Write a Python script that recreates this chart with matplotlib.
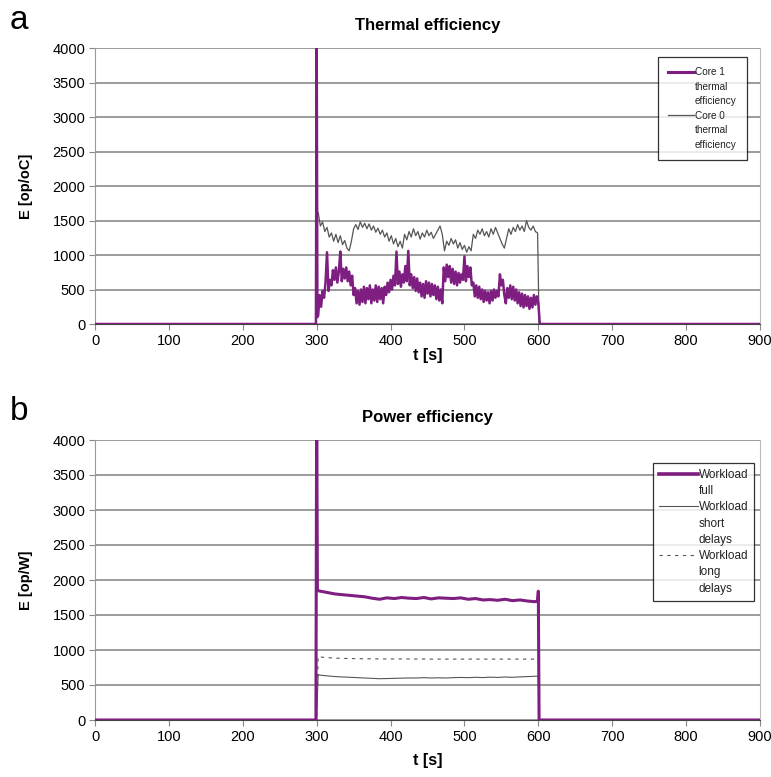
import matplotlib
matplotlib.use("Agg")
import matplotlib.pyplot as plt
from matplotlib.lines import Line2D

plt.rcParams['font.family'] = ['Liberation Sans', 'DejaVu Sans']

# ---------------- data: panel a (thermal efficiency) ----------------
t_core1 = [302 + 2 * k for k in range(150)]
core1_vals = [120, 420, 250, 480, 380, 600, 1040, 480, 640, 560,
              780, 640, 820, 600, 760, 1050, 620, 800, 660, 820,
              620, 760, 560, 700, 420, 520, 300, 480, 280, 500,
              320, 540, 300, 520, 360, 560, 300, 500, 340, 560,
              320, 540, 360, 520, 300, 540, 420, 600, 460, 640,
              500, 700, 560, 1050, 580, 760, 540, 720, 600, 840,
              620, 1060, 560, 720, 520, 680, 480, 660, 460, 600,
              400, 580, 380, 620, 440, 600, 400, 580, 420, 560,
              360, 540, 340, 500, 300, 820, 620, 860, 680, 840,
              600, 800, 580, 760, 560, 740, 600, 720, 640, 980,
              620, 840, 680, 820, 560, 600, 400, 560, 380, 540,
              360, 500, 320, 480, 340, 460, 300, 480, 340, 500,
              380, 480, 400, 720, 560, 640, 420, 300, 520, 380,
              560, 360, 540, 340, 500, 300, 460, 260, 440, 240,
              420, 260, 400, 220, 380, 240, 420, 280, 400, 300]

t_core0 = [302 + 3 * k for k in range(100)]
core0_vals = [1620, 1420, 1480, 1340, 1400, 1260, 1320, 1200, 1300, 1180,
              1280, 1150, 1210, 1100, 1060, 1200, 1380, 1440, 1370, 1480,
              1400, 1460, 1380, 1450, 1360, 1420, 1330, 1390, 1300, 1360,
              1260, 1320, 1200, 1280, 1160, 1240, 1120, 1200, 1100, 1300,
              1220, 1340, 1260, 1380, 1280, 1340, 1230, 1320, 1260, 1360,
              1280, 1330, 1240, 1300, 1360, 1420, 1300, 1060, 1200, 1140,
              1240, 1160, 1220, 1100, 1180, 1080, 1140, 1040, 1120, 1060,
              1300, 1240, 1360, 1300, 1380, 1280, 1340, 1260, 1380, 1300,
              1400, 1320, 1240, 1160, 1100, 1240, 1380, 1300, 1400, 1340,
              1440, 1360, 1420, 1340, 1500, 1400, 1360, 1420, 1340, 1320]

core1_t = [0, 299, 300, 301] + t_core1 + [602, 900]
core1_e = [0, 0, 4200, 100] + core1_vals + [0, 0]
core0_t = [0, 299, 300] + t_core0 + [601, 900]
core0_e = [0, 0, 1620] + core0_vals + [0, 0]

# ---------------- data: panel b (power efficiency) ----------------
t_steady = [305 + 10 * k for k in range(30)]

full_vals = [1840, 1820, 1800, 1790, 1780, 1770, 1760, 1740, 1725, 1745,
             1735, 1750, 1740, 1735, 1750, 1730, 1745, 1740, 1735, 1745,
             1725, 1735, 1715, 1720, 1710, 1725, 1705, 1715, 1700, 1690]
short_vals = [640, 630, 620, 615, 610, 605, 600, 595, 590, 592,
              595, 598, 600, 600, 605, 600, 603, 600, 605, 608,
              605, 610, 606, 612, 608, 614, 610, 616, 620, 625]
long_vals = [900, 890, 885, 880, 878, 876, 875, 874, 873, 872,
             872, 872, 872, 871, 871, 870, 870, 870, 870, 870,
             870, 870, 870, 870, 870, 870, 870, 870, 870, 870]

full_t = [0, 299, 300, 301] + t_steady + [599, 600, 601, 900]
full_e = [0, 0, 4500, 1850] + full_vals + [1700, 1840, 0, 0]
short_t = [0, 300, 302] + t_steady + [600, 601, 900]
short_e = [0, 0, 650] + short_vals + [625, 0, 0]
long_t = [0, 300, 302] + t_steady + [600, 601, 900]
long_e = [0, 0, 905] + long_vals + [870, 0, 0]

x_ticks = [0, 100, 200, 300, 400, 500, 600, 700, 800, 900]
y_ticks = [0, 500, 1000, 1500, 2000, 2500, 3000, 3500, 4000]

legend_a = [['Core 1', 'thermal', 'efficiency'],
            ['Core 0', 'thermal', 'efficiency']]
legend_b = [['Workload', 'full'],
            ['Workload', 'short', 'delays'],
            ['Workload', 'long', 'delays']]

PURPLE = '#7E1E80'
GRAY = '#555555'

fig = plt.figure(figsize=(7.71, 7.77), dpi=100)
W, H = 771, 777


def make_ax(top_px, bottom_px):
    left, right = 95, 760
    return fig.add_axes([left / W, 1 - bottom_px / H, (right - left) / W,
                         (bottom_px - top_px) / H])


def style(ax, title, ylabel, letter, xpad):
    ax.set_xlim(0, 900)
    ax.set_ylim(0, 4000)
    ax.set_xticks(x_ticks)
    ax.set_yticks(y_ticks)
    ax.tick_params(axis='both', labelsize=10.5, length=4, width=0.8,
                   color='#888888', direction='out', pad=3)
    ax.yaxis.grid(True, color='#8a8a8a', linewidth=1.2)
    ax.set_axisbelow(True)
    ax.spines['top'].set_visible(False)
    ax.spines['left'].set_color('#999999')
    ax.spines['right'].set_color('#bbbbbb')
    ax.spines['bottom'].set_color('#444444')
    ax.set_title(title, fontsize=12, fontweight='bold', pad=13)
    ax.set_ylabel(ylabel, fontsize=10.5, fontweight='bold', labelpad=14)
    ax.set_xlabel('t [s]', fontsize=11.5, fontweight='bold', labelpad=xpad)
    ax.text(-0.128, 1.10, letter, transform=ax.transAxes, fontsize=24,
            ha='left', va='center')


def stacked_legend(ax, lines, groups, anchor, fontsize, hlen, spacing, bpad):
    handles, labels = [], []
    for ln, words in zip(lines, groups):
        for i, w in enumerate(words):
            handles.append(ln if i == 0 else
                           Line2D([], [], linestyle='none', color='none'))
            labels.append(w)
    leg = ax.legend(handles, labels, loc='upper right',
                    bbox_to_anchor=anchor, fontsize=fontsize, frameon=True,
                    fancybox=False, handlelength=hlen, handletextpad=0.05,
                    borderpad=bpad, labelspacing=spacing, edgecolor='black',
                    borderaxespad=0)
    leg.get_frame().set_linewidth(0.9)
    for txt in leg.get_texts():
        txt.set_color('#222222')
    return leg


# ---- panel a ----
ax1 = make_ax(48, 324)
l0, = ax1.plot(core0_t, core0_e, color=GRAY, linewidth=0.9, zorder=3)
l1, = ax1.plot(core1_t, core1_e, color=PURPLE, linewidth=1.8, zorder=4)
style(ax1, 'Thermal efficiency', 'E [op/oC]', 'a', 0)
h1 = Line2D([], [], color=PURPLE, linewidth=2.2)
stacked_legend(ax1, [h1, l0], legend_a, (0.980, 0.967), 7.2, 2.6, 0.45, 1.0)

# ---- panel b ----
ax2 = make_ax(440, 720)
s0, = ax2.plot(short_t, short_e, color=GRAY, linewidth=0.8, zorder=3)
s1, = ax2.plot(long_t, long_e, color=GRAY, linewidth=0.8,
               linestyle=(0, (3, 4)), zorder=3)
s2, = ax2.plot(full_t, full_e, color=PURPLE, linewidth=2.2, zorder=4)
style(ax2, 'Power efficiency', 'E [op/W]', 'b', 7)
h2 = Line2D([], [], color=PURPLE, linewidth=2.6)
stacked_legend(ax2, [h2, s0, s1], legend_b, (0.991, 0.918), 8.5, 3.3, 0.36,
               0.5)

fig.savefig('out.png', dpi=100)
